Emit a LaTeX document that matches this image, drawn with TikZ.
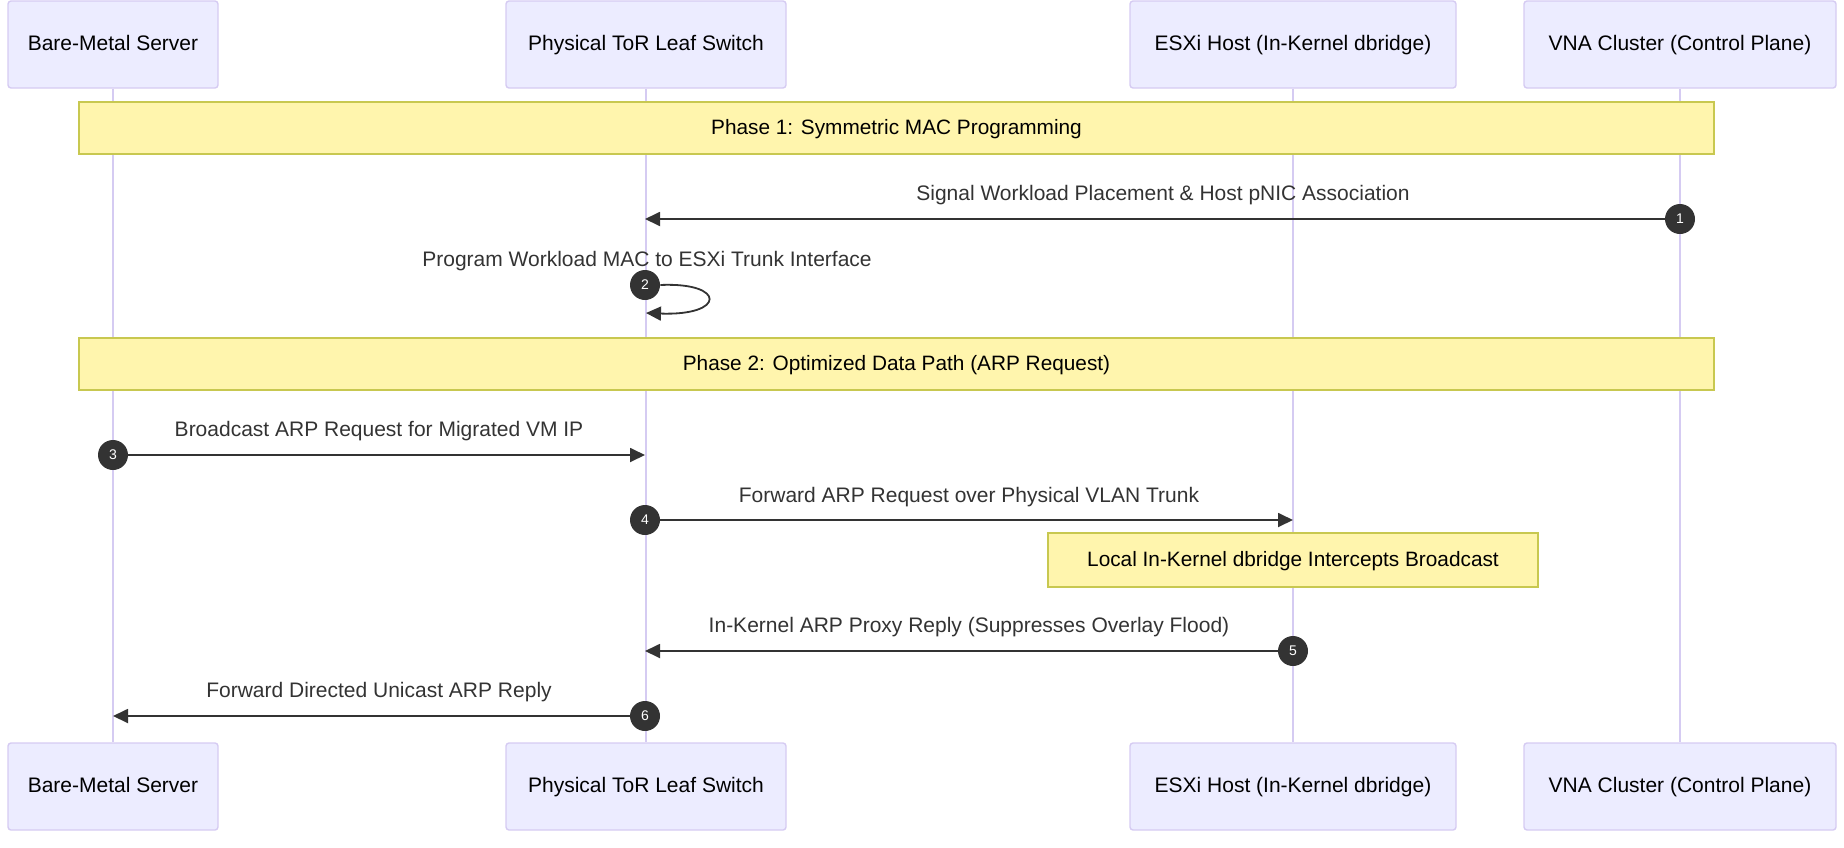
\documentclass[tikz,border=0pt]{standalone}
\usepackage{fontspec}
\setmainfont{Liberation Sans}
\usetikzlibrary{arrows.meta}
\definecolor{actorfill}{HTML}{ECECFF}
\definecolor{actorline}{HTML}{D5CBF2}
\definecolor{notefill}{HTML}{FFF5AD}
\definecolor{noteline}{HTML}{C8C850}
\definecolor{msg}{HTML}{333333}
\begin{document}
\begin{tikzpicture}[x=0.5pt,y=-0.5pt,
  actor/.style={draw=actorline, fill=actorfill, rounded corners=1.5pt, line width=0.7pt,
    minimum height=43.5pt, inner sep=0pt, text=black, text height=7.6pt, text depth=1.2pt,
    font=\fontsize{10.5}{12}\selectfont},
  lifeline/.style={draw=actorline, line width=0.75pt},
  notebox/.style={draw=noteline, fill=notefill, line width=0.6pt, inner sep=0pt,
    text height=7.6pt, text depth=1.2pt,
    text=black, font=\fontsize{10.4}{12}\selectfont},
  seqnum/.style={circle, fill=msg, minimum size=15pt, inner sep=0pt, text=white,
    font=\fontsize{7}{8}\selectfont},
  msgline/.style={draw=msg, line width=0.9pt, -{Triangle[length=7.5pt,width=7pt]}},
  msglabel/.style={text=msg, font=\fontsize{10.5}{12}\selectfont, inner sep=0pt}
]
\useasboundingbox (0,0) rectangle (1844,847);

% actors
\node[actor, minimum width=105pt] (bmT) at (113,44.5) {Bare-Metal Server};
\node[actor, minimum width=140pt] (torT) at (646,44.5) {Physical ToR Leaf Switch};
\node[actor, minimum width=163pt] (esxT) at (1293,44.5) {ESXi Host (In-Kernel dbridge)};
\node[actor, minimum width=156pt] (vnaT) at (1680,44.5) {VNA Cluster (Control Plane)};
\node[actor, minimum width=105pt] (bmB) at (113,786.5) {Bare-Metal Server};
\node[actor, minimum width=140pt] (torB) at (646,786.5) {Physical ToR Leaf Switch};
\node[actor, minimum width=163pt] (esxB) at (1293,786.5) {ESXi Host (In-Kernel dbridge)};
\node[actor, minimum width=156pt] (vnaB) at (1680,786.5) {VNA Cluster (Control Plane)};

% lifelines
\draw[lifeline] (bmT) -- (bmB);
\draw[lifeline] (torT) -- (torB);
\draw[lifeline] (esxT) -- (esxB);
\draw[lifeline] (vnaT) -- (vnaB);

% phase notes
\node[notebox, minimum width=817.5pt, minimum height=26pt] (ph1) at (896.5,128) {Phase 1: Symmetric MAC Programming};
\node[notebox, minimum width=817.5pt, minimum height=26pt] (ph2) at (896.5,364) {Phase 2: Optimized Data Path (ARP Request)};
\node[notebox, minimum width=245pt, minimum height=27pt] (nt) at (1293,560) {Local In-Kernel dbridge Intercepts Broadcast};

% message 1
\coordinate (m1e) at (645,219);
\node[seqnum] (n1) at (1680,219) {1};
\draw[msgline] (n1) -- (m1e);
\node[msglabel] (l1) at (1163,195) {Signal Workload Placement \& Host pNIC Association};

% message 2 (self)
\coordinate (m2e) at (646,313);
\node[seqnum] (n2) at (645,285) {2};
\draw[msgline] (n2.east) .. controls (726,282) and (726,316) .. (m2e);
\node[msglabel] (l2) at (647,261) {Program Workload MAC to ESXi Trunk Interface};

% message 3
\coordinate (m3e) at (645,455);
\node[seqnum] (n3) at (113,455) {3};
\draw[msgline] (n3) -- (m3e);
\node[msglabel] (l3) at (379,431) {Broadcast ARP Request for Migrated VM IP};

% message 4
\coordinate (m4e) at (1293,520);
\node[seqnum] (n4) at (645,520) {4};
\draw[msgline] (n4) -- (m4e);
\node[msglabel] (l4) at (969,497) {Forward ARP Request over Physical VLAN Trunk};

% message 5
\coordinate (m5e) at (645,651);
\node[seqnum] (n5) at (1293,651) {5};
\draw[msgline] (n5) -- (m5e);
\node[msglabel] (l5) at (969,627) {In-Kernel ARP Proxy Reply (Suppresses Overlay Flood)};

% message 6
\coordinate (m6e) at (113,716);
\node[seqnum] (n6) at (645,716) {6};
\draw[msgline] (n6) -- (m6e);
\node[msglabel] (l6) at (379,692) {Forward Directed Unicast ARP Reply};
\end{tikzpicture}
\end{document}
